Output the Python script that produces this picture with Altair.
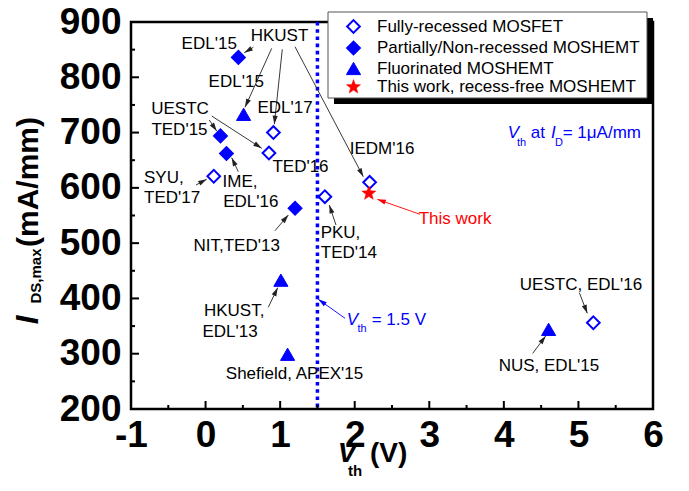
import math
import altair as alt
import pandas as pd

W, H = 522, 387
XMIN, XMAX = -1, 6
YMIN, YMAX = 200, 900
BLUE = "#0000ff"
RED = "#ff0000"
FONT = "Liberation Sans"

# ---------------- data ----------------
categories = ["Fully-recessed MOSFET", "Partially/Non-recessed MOSHEMT",
              "Fluorinated MOSHEMT", "This work, recess-free MOSHEMT"]

mosfet_x = [0.91, 0.85, 0.11, 1.60, 2.20, 5.20]
mosfet_y = [700, 663, 621, 584, 610, 356]
moshemt_x = [0.44, 0.20, 0.28, 1.20]
moshemt_y = [836, 694, 662, 563]
fluor_x = [0.51, 1.01, 1.10, 4.60]
fluor_y = [733, 433, 299, 344]
thiswork_x = [2.19]
thiswork_y = [590]

x_ticks = [-1, 0, 1, 2, 3, 4, 5, 6]
x_minor = [-0.5, 0.5, 1.5, 2.5, 3.5, 4.5, 5.5]
y_ticks = [200, 300, 400, 500, 600, 700, 800, 900]
y_minor = [250, 350, 450, 550, 650, 750, 850]
vth_line = [1.5]

# annotation labels (data coordinates of centre)
label_text = ["HKUST", "EDL'15", "EDL'15", "UESTC", "TED'15", "EDL'17", "TED'16",
              "SYU,", "TED'17", "IME,", "EDL'16", "NIT,TED'13", "PKU,", "TED'14",
              "HKUST,", "EDL'13", "Shefield, APEX'15", "IEDM'16", "This work",
              "UESTC, EDL'16", "NUS, EDL'15"]
label_x = [0.991, 0.049, 0.411, -0.343, -0.350, 1.065, 1.273,
           -0.560, -0.448, 0.462, 0.607, 0.417, 1.809, 1.921,
           0.384, 0.328, 1.193, 2.366, 3.345, 5.034, 4.605]
label_y = [874.7, 860.7, 791.1, 743.0, 704.6, 743.9, 638.3,
           617.3, 581.1, 611.1, 575.0, 495.2, 519.2, 481.6,
           376.9, 339.8, 262.9, 669.7, 543.1, 424.3, 277.8]
label_color = ["black"] * 18 + [RED] + ["black"] * 2

# arrows: start (x1, y1) -> tip (x2, y2)
arrow_x1 = [0.640, 0.887, 1.029, 1.199, 0.050, 0.082, 0.439, -0.128, 0.931, 1.749, 0.841, 1.870, 2.875, 5.012, 4.387]
arrow_y1 = [854.2, 852.4, 850.6, 855.3, 722.7, 730.0, 629.2, 605.2, 522.5, 532.8, 384.0, 364.1, 552.2, 410.4, 300.7]
arrow_x2 = [0.519, 0.529, 0.922, 2.115, 0.149, 0.753, 0.350, 0.015, 1.110, 1.659, 0.967, 1.512, 2.303, 5.119, 4.561]
arrow_y2 = [844.5, 745.7, 715.0, 620.2, 702.8, 671.5, 654.6, 615.5, 550.9, 569.0, 419.4, 398.4, 579.3, 373.1, 332.0]
arrow_color = ["#222222"] * 11 + [BLUE, RED] + ["#222222"] * 2

# blue text pieces (left edge, middle) in data coordinates
blue_italic_text = ["V", "V", "I"]
blue_italic_x = [1.893, 4.052, 4.632]
blue_italic_y = [361.0, 698.7, 698.7]
blue_normal_text = ["= 1.5 V", "at", "= 1\u03bcA/mm"]
blue_normal_x = [2.228, 4.360, 4.789]
blue_normal_y = [361.0, 698.7, 698.7]
blue_sub_text = ["th", "th", "D"]
blue_sub_x = [2.037, 4.176, 4.686]
blue_sub_y = [343.8, 681.1, 681.1]

# ---------------- helpers ----------------
def star_path(ri=0.42):
    pts = []
    for k in range(10):
        r = 1.0 if k % 2 == 0 else ri
        a = math.radians(-90 + 36 * k)
        pts.append((r * math.cos(a), r * math.sin(a)))
    return "M" + "L".join(f"{x:.3f},{y:.3f}" for x, y in pts) + "Z"

STAR = star_path()
HEAD = "M0,-1L0.6,1L-0.6,1Z"

xs = alt.Scale(domain=[XMIN, XMAX], nice=False, zero=False)
ys = alt.Scale(domain=[YMIN, YMAX], nice=False, zero=False)
xaxis = alt.Axis(values=x_ticks, title=None, grid=False, ticks=False, domain=False,
                 labelFontSize=37, labelFont=FONT, labelFontWeight="bold", labelColor="black",
                 labelPadding=8, labelExpr="'' + datum.value", labelFlush=False, labelOverlap=False)
yaxis = alt.Axis(values=y_ticks, title=None, grid=False, ticks=False, domain=False,
                 labelFontSize=37, labelFont=FONT, labelFontWeight="bold", labelColor="black",
                 labelPadding=10, labelExpr="'' + datum.value", labelFlush=False, labelOverlap=False)

def X(f):
    return alt.X(f, type="quantitative", scale=xs, axis=xaxis)

def Y(f):
    return alt.Y(f, type="quantitative", scale=ys, axis=yaxis)

# ---------------- tables ----------------
rows = []
for xv, yv in zip(mosfet_x, mosfet_y):
    rows.append({"x": xv, "y": yv, "cat": categories[0]})
for xv, yv in zip(moshemt_x, moshemt_y):
    rows.append({"x": xv, "y": yv, "cat": categories[1]})
for xv, yv in zip(fluor_x, fluor_y):
    rows.append({"x": xv, "y": yv, "cat": categories[2]})
for xv, yv in zip(thiswork_x, thiswork_y):
    rows.append({"x": xv, "y": yv, "cat": categories[3]})
points = pd.DataFrame(rows)

kx = W / (XMAX - XMIN)
ky = H / (YMAX - YMIN)
HL = 8.5
heads = []
for x1, y1, x2, y2, c in zip(arrow_x1, arrow_y1, arrow_x2, arrow_y2, arrow_color):
    dx = (x2 - x1) * kx
    dy = -(y2 - y1) * ky
    L = math.hypot(dx, dy)
    ux, uy = dx / L, dy / L
    ang = math.degrees(math.atan2(ux, -uy)) % 360
    heads.append({"x": x2 - ux * HL / 2 / kx, "y": y2 + uy * HL / 2 / ky, "ang": ang, "c": c})
heads = pd.DataFrame(heads)
arrows = pd.DataFrame({"x": arrow_x1, "y": arrow_y1, "x2": arrow_x2, "y2": arrow_y2, "c": arrow_color})
labels = pd.DataFrame({"t": label_text, "x": label_x, "y": label_y, "c": label_color})

# ---------------- layers ----------------
vline = alt.Chart(pd.DataFrame({"v": vth_line})).mark_rule(
    color=BLUE, strokeWidth=3.5, strokeDash=[3.6, 3.6]).encode(
    x=X("v"), y=alt.value(0), y2=alt.value(H))

arrow_lines = alt.Chart(arrows).mark_rule(strokeWidth=0.9).encode(
    x=X("x"), y=Y("y"), x2="x2", y2="y2", color=alt.Color("c:N", scale=None))

arrow_heads = alt.Chart(heads).mark_point(shape=HEAD, size=HL * HL, filled=True, opacity=1,
                                          strokeWidth=0).encode(
    x=X("x"), y=Y("y"), angle=alt.Angle("ang:Q", scale=None),
    fill=alt.Fill("c:N", scale=None))

box_df = pd.DataFrame({"d": [0]})
shadow = alt.Chart(box_df).mark_rect(color="black").encode(
    x=alt.value(203), x2=alt.value(522), y=alt.value(-4), y2=alt.value(82))
box = alt.Chart(box_df).mark_rect(fill="white", stroke="#555555", strokeWidth=1).encode(
    x=alt.value(197), x2=alt.value(516), y=alt.value(-10), y2=alt.value(76))

leg = alt.Legend(orient="none", legendX=197, legendY=-7, title=None,
                 labelFont=FONT, labelFontSize=17, labelColor="black", labelLimit=500,
                 padding=3, symbolOffset=14, labelOffset=15, rowPadding=0.5)
pts = alt.Chart(points).mark_point(opacity=1).encode(
    x=X("x"), y=Y("y"),
    shape=alt.Shape("cat:N", scale=alt.Scale(domain=categories,
                    range=["diamond", "diamond", "triangle-up", STAR]), legend=leg),
    fill=alt.Fill("cat:N", scale=alt.Scale(domain=categories,
                  range=["white", BLUE, BLUE, RED]), legend=leg),
    stroke=alt.Stroke("cat:N", scale=alt.Scale(domain=categories,
                      range=[BLUE, BLUE, BLUE, RED]), legend=leg),
    size=alt.Size("cat:N", scale=alt.Scale(domain=categories,
                  range=[161, 219, 231, 370]), legend=leg),
    strokeWidth=alt.StrokeWidth("cat:N", scale=alt.Scale(domain=categories,
                                range=[2, 0.5, 0.5, 0.5]), legend=leg),
)

text_lbl = alt.Chart(labels).mark_text(font=FONT, fontSize=17, align="center", baseline="middle").encode(
    x=X("x"), y=Y("y"), text="t:N", color=alt.Color("c:N", scale=None))

def blue_layer(t, xv, yv, size, style):
    df = pd.DataFrame({"t": t, "x": xv, "y": yv})
    return alt.Chart(df).mark_text(font=FONT, fontSize=size, fontStyle=style, color=BLUE,
                                   align="left", baseline="middle").encode(
        x=X("x"), y=Y("y"), text="t:N")

blue_i = blue_layer(blue_italic_text, blue_italic_x, blue_italic_y, 17, "italic")
blue_n = blue_layer(blue_normal_text, blue_normal_x, blue_normal_y, 17, "normal")
blue_s = blue_layer(blue_sub_text, blue_sub_x, blue_sub_y, 11, "normal")

xt_major = alt.Chart(pd.DataFrame({"v": x_ticks})).mark_rule(color="black", strokeWidth=2).encode(
    x=X("v"), y=alt.value(H), y2=alt.value(H - 8))
xt_minor = alt.Chart(pd.DataFrame({"v": x_minor})).mark_rule(color="black", strokeWidth=2).encode(
    x=X("v"), y=alt.value(H), y2=alt.value(H - 4))
yt_major = alt.Chart(pd.DataFrame({"v": y_ticks})).mark_rule(color="black", strokeWidth=2).encode(
    y=Y("v"), x=alt.value(0), x2=alt.value(8))
yt_minor = alt.Chart(pd.DataFrame({"v": y_minor})).mark_rule(color="black", strokeWidth=2).encode(
    y=Y("v"), x=alt.value(0), x2=alt.value(4))

def title_piece(t, px, py, size, style, angle, align, baseline):
    return alt.Chart(pd.DataFrame({"t": [t]})).mark_text(
        font=FONT, fontSize=size, fontWeight="bold", fontStyle=style, angle=angle,
        align=align, baseline=baseline, color="black").encode(
        x=alt.value(px), y=alt.value(py), text="t:N")

titles = [
    title_piece("I", -93, 298, 31, "italic", 270, "center", "alphabetic"),
    title_piece("DS,max", -90, 254, 15, "normal", 270, "center", "alphabetic"),
    title_piece("(mA/mm)", -93, 160, 30, "normal", 270, "center", "alphabetic"),
    title_piece("V", 216, 440, 28, "italic", 0, "center", "alphabetic"),
    title_piece("th", 224, 454, 15, "normal", 0, "center", "alphabetic"),
    title_piece("(V)", 239, 440, 28, "normal", 0, "left", "alphabetic"),
]

chart = alt.layer(
    vline, arrow_lines, shadow, box, pts, arrow_heads, text_lbl, blue_i, blue_n, blue_s,
    xt_major, xt_minor, yt_major, yt_minor, *titles
).properties(
    width=W, height=H,
    padding={"left": 123, "top": 14, "right": 28, "bottom": 74},
    autosize=alt.AutoSizeParams(type="none"),
).configure_view(stroke="black", strokeWidth=2.5)

chart.save("out.html", embed_options={"renderer": "svg", "actions": False})
